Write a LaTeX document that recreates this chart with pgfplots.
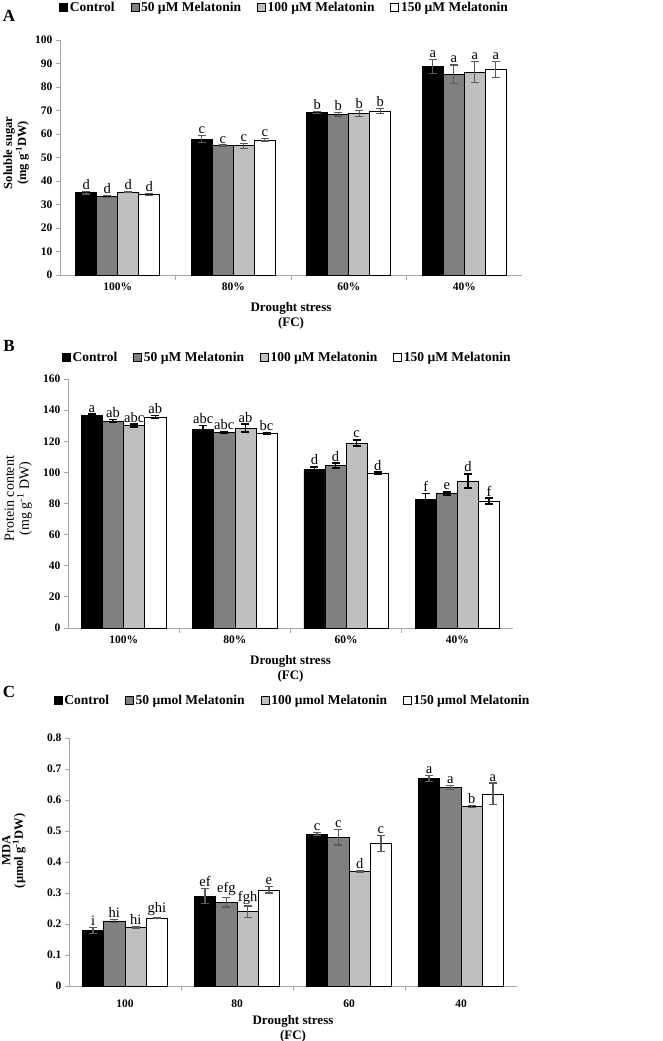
\documentclass[border=0pt]{standalone}
\usepackage{fontspec}
\setmainfont{Liberation Serif}
\usepackage{pgfplots}
\pgfplotsset{compat=1.18}
\usepackage{pgfplotstable}

\definecolor{midgray}{HTML}{808080}
\definecolor{lightgray2}{HTML}{BFBFBF}
\definecolor{axisgray}{HTML}{A6A6A6}
\definecolor{errgray}{HTML}{595959}

\newcommand\fs[1]{\fontsize{#1bp}{#1bp}\selectfont}

% x y e label for each of the four treatments
\pgfplotstableread{
x y1 e1 l1 y2 e2 l2 y3 e3 l3 y4 e4 l4
0 35.0 0.5 d 33.5 0.4 d 35.3 0.3 d 34.3 0.4 d
1 57.8 1.5 c 55.0 0.3 c 55.0 1.0 c 57.5 0.5 c
2 69.2 0.5 b 68.5 0.8 b 68.8 1.2 b 69.7 1.0 b
3 88.8 3.0 a 85.4 4.0 a 86.3 4.5 a 87.5 3.3 a
}\sugar

\pgfplotstableread{
x y1 e1 l1 y2 e2 l2 y3 e3 l3 y4 e4 l4
0 136.5 1.0 a 133.0 1.0 ab 130.0 1.0 abc 135.5 1.0 ab
1 127.5 2.5 abc 125.5 0.5 abc 128.5 2.5 ab 125.0 0.5 bc
2 102.0 1.5 d 104.5 1.5 d 119.0 2.0 c 99.5 0.7 d
3 82.5 4.0 f 86.5 1.0 e 94.5 4.5 d 81.5 2.0 f
}\protein

\pgfplotstableread{
x y1 e1 l1 y2 e2 l2 y3 e3 l3 y4 e4 l4
0 0.18 0.010 i 0.21 0.005 hi 0.19 0.003 hi 0.22 0.002 ghi
1 0.29 0.025 ef 0.27 0.015 efg 0.24 0.018 fgh 0.31 0.010 e
2 0.49 0.005 c 0.48 0.025 c 0.37 0.002 d 0.46 0.025 c
3 0.67 0.010 a 0.64 0.007 a 0.58 0.003 b 0.62 0.035 a
}\mda

\pgfplotsset{
  panel/.style={
    scale only axis, anchor=south west, clip=false,
    xmin=-0.5, xmax=3.5, ymin=0,
    axis lines*=left,
    axis line style={draw=axisgray, line width=0.8bp, -},
    tick align=outside,
    every tick/.style={draw=axisgray, line width=0.8bp},
    major tick length=4bp, minor tick length=5bp,
    xtick={0,1,2,3},
    major x tick style={draw=none},
    minor xtick={0.5,1.5,2.5},
    yticklabel style={font=\fs{11.5}\bfseries},
    xticklabel style={font=\fs{11.5}\bfseries},
    /pgf/number format/assume math mode=true,
    /pgf/number format/fixed,
    ylabel style={anchor=center, align=center, font=\fs{12.5}\bfseries},
    xlabel style={at={(axis description cs:0.5,0)}, anchor=north, align=center,
      font=\fontsize{13bp}{15bp}\selectfont\bfseries},
    legend columns=4, legend cell align=left,
    legend style={draw=none, fill=none, anchor=center,
      font=\fs{13.5}\bfseries,
      /tikz/every even column/.append style={column sep=14bp}},
  },
  sbar/.style n args={2}{ybar, bar width=#2, bar shift=0, fill=#1,
    draw=black, line width=0.6bp,
    legend image code/.code={\draw[fill=#1, draw=black, line width=0.6bp]
      (0bp,-4bp) rectangle (8bp,4bp);}},
  ebar/.style n args={2}{error bars/y dir=both, error bars/y explicit,
    error bars/error mark=-,
    error bars/error bar style={draw=#1, line width=#2},
    error bars/error mark options={rotate=90, draw=#1, line width=#2, mark size=4bp}},
  lab/.style={nodes near coords, point meta=explicit symbolic,
    visualization depends on={\thisrow{#1}\as\err},
    every node near coord/.append style={shift={(axis direction cs:0,\err)},
      anchor=south, text=black, font=\fs{14.5}\mdseries, inner sep=1.5bp}},
}

\begin{document}
\begin{tikzpicture}
\useasboundingbox (0,0) rectangle (663bp,-1041bp);

\node[font=\fs{17}\bfseries] at (9bp,-16bp) {A};
\node[font=\fs{17}\bfseries] at (9bp,-346bp) {B};
\node[font=\fs{17}\bfseries] at (9bp,-692bp) {C};

% ---- A: soluble sugar
\begin{axis}[panel,
  at={(60bp,-275bp)}, width=462bp, height=235bp,
  ymax=100, ytick={0,10,...,100},
  xticklabels={100\%,80\%,60\%,40\%},
  ylabel={Soluble sugar\\(mg g\textsuperscript{-1}DW)},
  ylabel style={at={(axis description cs:-0.095,0.52)}},
  xlabel={Drought stress\\(FC)}, xlabel style={yshift=-24bp},
  legend style={at={(axis description cs:0.486,1.14)}},
]
\addplot[sbar={black}{0.182}, ebar={errgray}{1.2bp}, lab=e1] table[x expr=\thisrow{x}-0.273, y=y1, y error=e1, meta=l1] {\sugar};
\addplot[sbar={midgray}{0.182}, ebar={errgray}{1.2bp}, lab=e2] table[x expr=\thisrow{x}-0.091, y=y2, y error=e2, meta=l2] {\sugar};
\addplot[sbar={lightgray2}{0.182}, ebar={errgray}{1.2bp}, lab=e3] table[x expr=\thisrow{x}+0.091, y=y3, y error=e3, meta=l3] {\sugar};
\addplot[sbar={white}{0.182}, ebar={errgray}{1.2bp}, lab=e4] table[x expr=\thisrow{x}+0.273, y=y4, y error=e4, meta=l4] {\sugar};
\legend{Control, 50 µM Melatonin, 100 µM Melatonin, 150 µM Melatonin}
\end{axis}

% ---- B: protein content
\begin{axis}[panel,
  at={(68bp,-628bp)}, width=445bp, height=249bp,
  ymax=160, ytick={0,20,...,160},
  xticklabels={100\%,80\%,60\%,40\%},
  ylabel={Protein content\\(mg g\textsuperscript{-1} DW)},
  ylabel style={at={(axis description cs:-0.112,0.52)}, font=\fontsize{14bp}{15bp}\selectfont\mdseries},
  xlabel={Drought stress\\(FC)}, xlabel style={yshift=-24bp},
  legend style={at={(axis description cs:0.493,1.088)}},
]
\addplot[sbar={black}{0.19}, ebar={black}{1.6bp}, lab=e1] table[x expr=\thisrow{x}-0.285, y=y1, y error=e1, meta=l1] {\protein};
\addplot[sbar={midgray}{0.19}, ebar={black}{1.6bp}, lab=e2] table[x expr=\thisrow{x}-0.095, y=y2, y error=e2, meta=l2] {\protein};
\addplot[sbar={lightgray2}{0.19}, ebar={black}{1.6bp}, lab=e3] table[x expr=\thisrow{x}+0.095, y=y3, y error=e3, meta=l3] {\protein};
\addplot[sbar={white}{0.19}, ebar={black}{1.6bp}, lab=e4] table[x expr=\thisrow{x}+0.285, y=y4, y error=e4, meta=l4] {\protein};
\legend{Control, 50 µM Melatonin, 100 µM Melatonin, 150 µM Melatonin}
\end{axis}

% ---- C: MDA
\begin{axis}[panel,
  at={(69bp,-986bp)}, width=448bp, height=248bp,
  ymax=0.8, ytick={0,0.1,0.2,0.3,0.4,0.5,0.6,0.7,0.8},
  xticklabels={100,80,60,40},
  xticklabel style={yshift=-6bp},
  ylabel={MDA\\(µmol g\textsuperscript{-1}DW)},
  ylabel style={at={(axis description cs:-0.123,0.545)}},
  xlabel={Drought stress\\(FC)}, xlabel style={yshift=-26bp},
  legend style={at={(axis description cs:0.499,1.153)}},
]
\addplot[sbar={black}{0.19}, ebar={errgray}{1.2bp}, lab=e1] table[x expr=\thisrow{x}-0.285, y=y1, y error=e1, meta=l1] {\mda};
\addplot[sbar={midgray}{0.19}, ebar={errgray}{1.2bp}, lab=e2] table[x expr=\thisrow{x}-0.095, y=y2, y error=e2, meta=l2] {\mda};
\addplot[sbar={lightgray2}{0.19}, ebar={errgray}{1.2bp}, lab=e3] table[x expr=\thisrow{x}+0.095, y=y3, y error=e3, meta=l3] {\mda};
\addplot[sbar={white}{0.19}, ebar={errgray}{1.2bp}, lab=e4] table[x expr=\thisrow{x}+0.285, y=y4, y error=e4, meta=l4] {\mda};
\legend{Control, 50 µmol Melatonin, 100 µmol Melatonin, 150 µmol Melatonin}
\end{axis}
\end{tikzpicture}
\end{document}
